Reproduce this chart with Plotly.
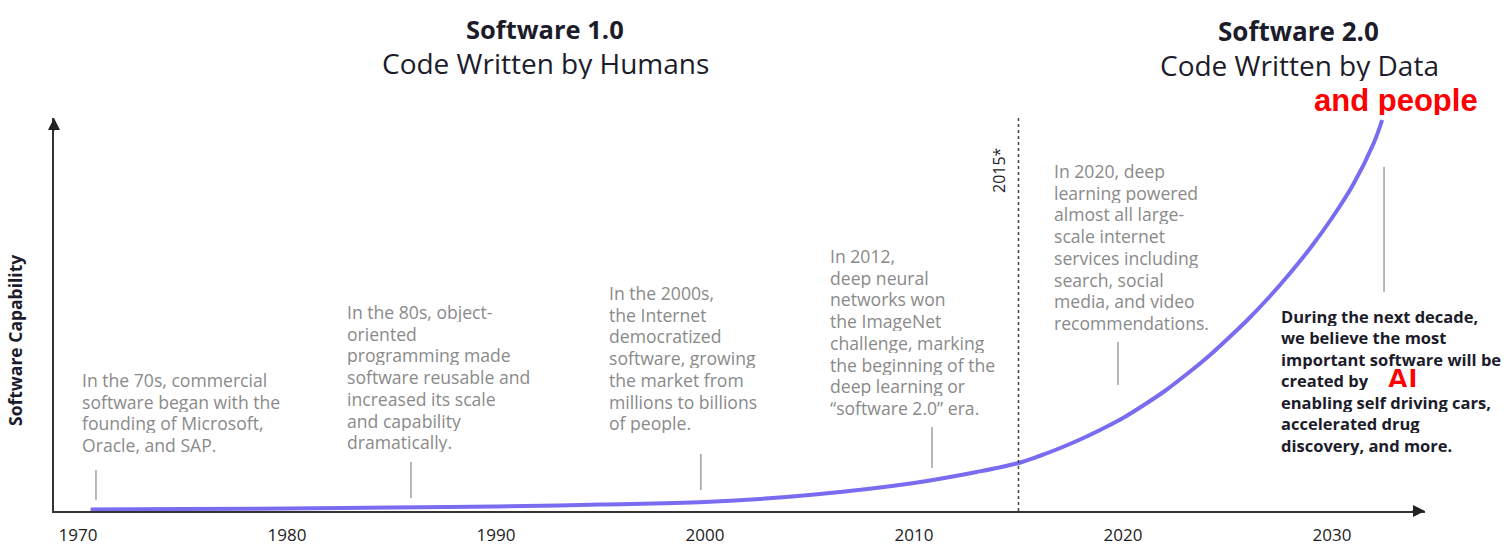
import plotly.graph_objects as go

# ---------------- data ----------------
years = [1970.6, 1975, 1980, 1985, 1990, 1995, 2000, 2005, 2010, 2013, 2015,
         2016, 2017, 2018, 2019, 2020, 2021, 2022, 2023, 2024, 2025, 2026,
         2027, 2028, 2029, 2030, 2031, 2032, 2032.4]
capability = [1.5, 2, 2.5, 3.5, 4.5, 6.5, 9, 16, 28, 39, 48,
              55, 63, 72, 82, 93, 106, 120, 136, 153, 172, 192,
              214, 238, 264, 293, 326, 368, 391]

tick_years = [1970, 1980, 1990, 2000, 2010, 2020, 2030]
tick_labels = ["1970", "1980", "1990", "2000", "2010", "2020", "2030"]

era_year = 2015
era_label = "2015*"

milestone_years = [1970.86, 1985.93, 1999.8, 2010.86, 2019.76, 2032.49]

milestone_texts = [
    "In the 70s, commercial<br>software began with the<br>founding of Microsoft,<br>Oracle, and SAP.",
    "In the 80s, object-<br>oriented<br>programming made<br>software reusable and<br>increased its scale<br>and capability<br>dramatically.",
    "In the 2000s,<br>the Internet<br>democratized<br>software, growing<br>the market from<br>millions to billions<br>of people.",
    "In 2012,<br>deep neural<br>networks won<br>the ImageNet<br>challenge, marking<br>the beginning of the<br>deep learning or<br>\u201csoftware 2.0\u201d era.",
    "In 2020, deep<br>learning powered<br>almost all large-<br>scale internet<br>services including<br>search, social<br>media, and video<br>recommendations.",
]
outlook_text = ("During the next decade,<br>we believe the most<br>important software will be<br>"
                "created by<br>enabling self driving cars,<br>accelerated drug<br>discovery, and more.")

# ---------------- geometry helpers (pixel layout) ----------------
W, H = 1510, 547
ML, MR, MT, MB = 54, 85, 118, 36
PW, PH = W - ML - MR, H - MT - MB
X0_PX, PX_PER_YEAR = 78, 20.9


def px_year(px):
    return 1970 + (px - X0_PX) / PX_PER_YEAR


def py_cap(py):
    return (H - MB) - py


def xp(px):
    return (px - ML) / PW


def yp(py):
    return (H - MB - py) / PH


GRAY = "#8a8a8a"
DARK = "#1c1c2b"
PURPLE = "#7a6cf0"
RED = "#ff0000"
FONT = "Open Sans"

fig = go.Figure()
fig.add_trace(go.Scatter(
    x=years, y=capability, mode="lines",
    line=dict(color=PURPLE, width=4, shape="spline", smoothing=1.0),
    cliponaxis=False, hoverinfo="skip", showlegend=False,
))

shapes = []
# 2015 dotted divider
shapes.append(dict(type="line", xref="x", yref="y", x0=era_year, x1=era_year,
                   y0=0, y1=py_cap(MT), line=dict(color="#444444", width=1.5, dash="dot")))

# milestone marker lines (pixel extents)
marker_px = [(470, 500), (462, 498), (454, 490), (427, 468), (342, 385), (167, 292)]
for yr, (top, bot) in zip(milestone_years, marker_px):
    shapes.append(dict(type="line", xref="x", yref="y", x0=yr, x1=yr,
                       y0=py_cap(bot), y1=py_cap(top),
                       line=dict(color="#a0a0a0", width=1.5)))

annotations = []
# milestone texts, one annotation per line to control line spacing
LINE_GAP = 21.7
text_pos = [(81, 380), (346, 312), (608, 293), (829, 256), (1053, 171)]
for txt, (lx, first_y) in zip(milestone_texts, text_pos):
    for i, line in enumerate(txt.split("<br>")):
        annotations.append(dict(xref="paper", yref="paper", x=xp(lx - 1), y=yp(first_y + i * LINE_GAP),
                                xanchor="left", yanchor="middle", align="left",
                                text=line, showarrow=False, height=20,
                                font=dict(family=FONT, size=17.6, color=GRAY)))

# bold outlook text
for i, line in enumerate(outlook_text.split("<br>")):
    annotations.append(dict(xref="paper", yref="paper", x=xp(1279), y=yp(316 + i * 21.5),
                            xanchor="left", yanchor="middle", align="left",
                            text="<b>" + line + "</b>", showarrow=False, height=19,
                            font=dict(family=FONT, size=16.5, color=DARK)))
annotations.append(dict(xref="paper", yref="paper", x=xp(1402), y=yp(378),
                        xanchor="center", yanchor="middle", text="<b>AI</b>",
                        showarrow=False, height=18,
                        font=dict(family="Liberation Sans", size=30, color=RED)))

# titles
annotations += [
    dict(xref="paper", yref="paper", x=xp(545), y=yp(28.5), text="<b>Software 1.0</b>",
         showarrow=False, xanchor="center", yanchor="middle", height=28,
         font=dict(family=FONT, size=25.5, color=DARK)),
    dict(xref="paper", yref="paper", x=xp(545), y=yp(63), text="Code Written by Humans",
         showarrow=False, xanchor="center", yanchor="middle", height=32,
         font=dict(family=FONT, size=28, color=DARK)),
    dict(xref="paper", yref="paper", x=xp(1298), y=yp(31.5), text="<b>Software 2.0</b>",
         showarrow=False, xanchor="center", yanchor="middle", height=28,
         font=dict(family=FONT, size=26, color=DARK)),
    dict(xref="paper", yref="paper", x=xp(1299), y=yp(65), text="Code Written by Data",
         showarrow=False, xanchor="center", yanchor="middle", height=32,
         font=dict(family=FONT, size=28, color=DARK)),
    dict(xref="paper", yref="paper", x=xp(1396), y=yp(100), text="<b>and people</b>",
         showarrow=False, xanchor="center", yanchor="middle", height=30,
         font=dict(family="Liberation Sans", size=31, color=RED)),
    dict(xref="paper", yref="paper", x=xp(999), y=yp(170), text=era_label,
         showarrow=False, xanchor="center", yanchor="middle", textangle=-90,
         font=dict(family=FONT, size=16, color=DARK)),
    dict(xref="paper", yref="paper", x=xp(15), y=yp(341), text="<b>Software Capability</b>",
         showarrow=False, xanchor="center", yanchor="middle", textangle=-90,
         font=dict(family=FONT, size=17.5, color=DARK)),
]

# axis arrowheads
annotations += [
    dict(xref="paper", yref="paper", x=1, y=0, ax=-14, ay=0, text="", showarrow=True,
         arrowhead=2, arrowsize=1.6, arrowwidth=1.5, arrowcolor="#222222", standoff=0),
    dict(xref="paper", yref="paper", x=0, y=1, ax=0, ay=14, text="", showarrow=True,
         arrowhead=2, arrowsize=1.6, arrowwidth=1.5, arrowcolor="#222222", standoff=0),
]

fig.update_layout(
    width=W, height=H,
    margin=dict(l=ML, r=MR, t=MT, b=MB, pad=0, autoexpand=False),
    paper_bgcolor="white", plot_bgcolor="white",
    shapes=shapes, annotations=annotations,
    xaxis=dict(range=[px_year(ML), px_year(W - MR)], tickvals=tick_years, ticktext=tick_labels,
               automargin=False,
               showgrid=False, zeroline=False, showline=True, linecolor="#333333", linewidth=1.5,
               ticks="outside", ticklen=8, tickcolor="rgba(0,0,0,0)",
               tickfont=dict(family=FONT, size=17, color="#222222")),
    yaxis=dict(range=[0, PH], showgrid=False, zeroline=False, showline=True, automargin=False,
               linecolor="#333333", linewidth=1.5, showticklabels=False, ticks=""),
    showlegend=False,
)

fig.write_html("out.html")
